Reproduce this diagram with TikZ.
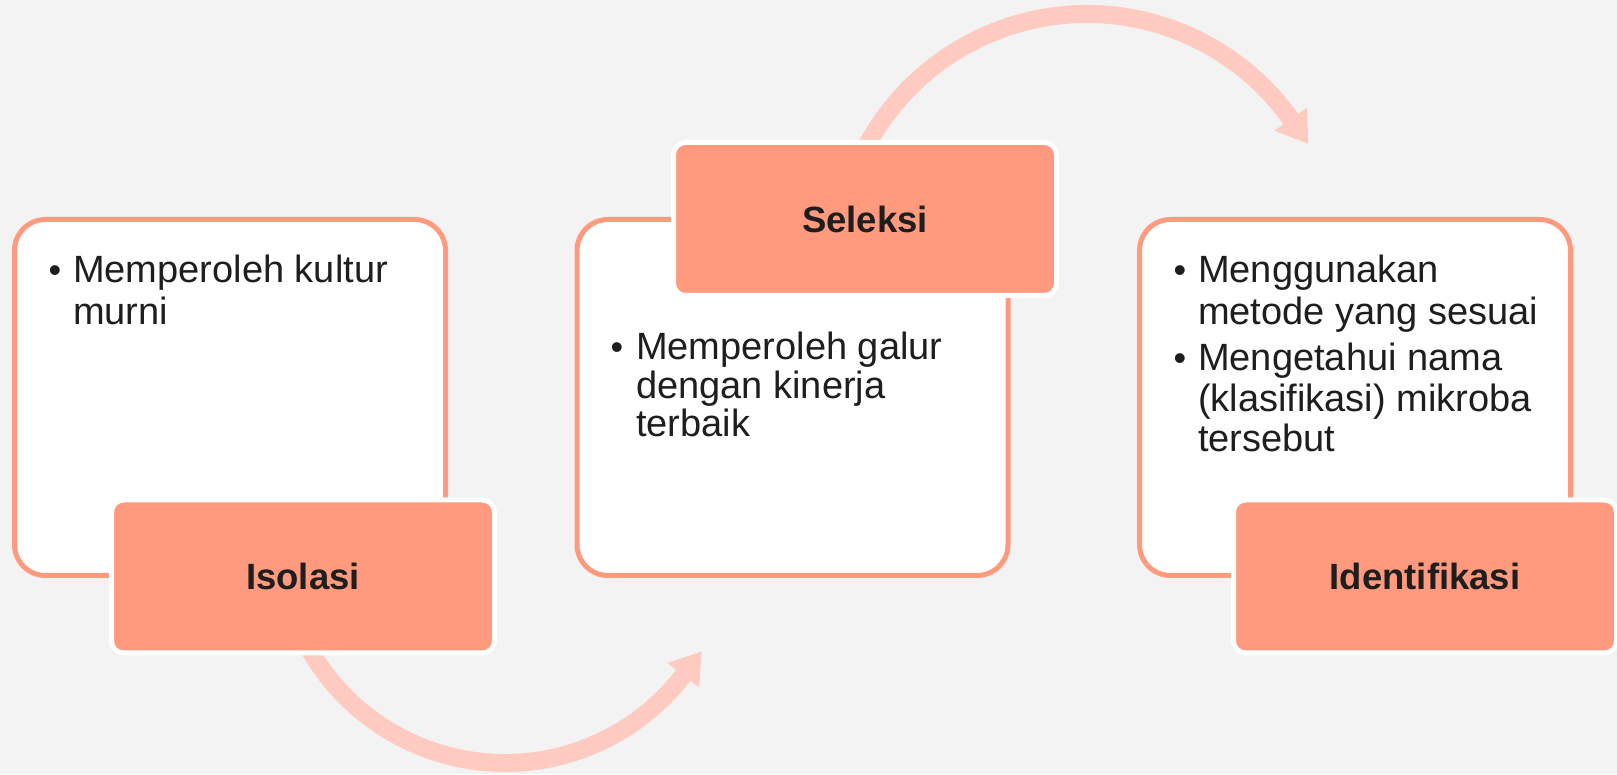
\documentclass[tikz,border=0pt]{standalone}
\usepackage{fontspec}
\setmainfont{Liberation Sans}
\usetikzlibrary{calc}
\definecolor{salmon}{HTML}{FF9A7E}
\definecolor{arrowpink}{HTML}{FFCABF}
\definecolor{bggray}{HTML}{F3F3F3}
\definecolor{ink}{HTML}{1E1E1E}
\begin{document}
\begin{tikzpicture}[x=1pt,y=1pt,
  contentbox/.style={draw=salmon, fill=white, line width=5pt, rounded corners=31pt,
    minimum width=431pt, minimum height=356pt, anchor=north west, inner sep=0pt, outer sep=0pt},
  labelbox/.style={draw=white, fill=salmon, line width=5pt, rounded corners=12pt,
    minimum width=383pt, minimum height=153pt, inner sep=0pt, outer sep=0pt,
    font=\fontsize{36.5}{43}\selectfont\bfseries, text=ink},
  bodyline/.style={anchor=base west, inner sep=0pt, font=\fontsize{38}{45}\selectfont, text=ink},
  bulletdot/.style={anchor=base, inner sep=0pt, font=\fontsize{36}{43}\selectfont, text=ink},
  arrowshaft/.style={draw=arrowpink, line width=18pt},
  arrowhead/.style={fill=arrowpink},
]
% background and bounding box
\fill[bggray] (0,0) rectangle (1617,774);
\useasboundingbox (0,0) rectangle (1617,774);

% arc centres
\coordinate (ctop) at (1087,510);
\coordinate (cbot) at (505,236);

% top curved arrow (Seleksi -> Identifikasi)
\draw[arrowshaft] (ctop) ++(160:250) arc[start angle=160, end angle=35, radius=250];
\coordinate (toptip) at ($(ctop)+(35.4:250)+(-54.6:30)$);
\fill[arrowhead] ($(ctop)+(35.4:270)$) -- ($(ctop)+(35.4:230)$) -- (toptip) -- cycle;

% bottom curved arrow (Isolasi -> Seleksi)
\draw[arrowshaft] (cbot) ++(205:225) arc[start angle=205, end angle=323, radius=225];
\coordinate (bottip) at ($(cbot)+(322.4:225)+(52.4:30)$);
\fill[arrowhead] ($(cbot)+(322.4:245)$) -- ($(cbot)+(322.4:205)$) -- (bottip) -- cycle;

% content boxes
\node[contentbox] (box1) at (14.5,554.5) {};
\node[contentbox] (box2) at (577,554.5) {};
\node[contentbox] (box3) at (1139.5,554.5) {};

% label boxes
\node[labelbox] (isolasi) at (303,197.5) {Isolasi};
\node[labelbox] (seleksi) at (865,555) {Seleksi};
\node[labelbox] (identifikasi) at (1425,197.5) {Identifikasi};

% box 1 text
\node[bulletdot] (b1a) at (55,491) {•};
\node[bodyline] (t1a) at (73,491) {Memperoleh kultur};
\node[bodyline] (t1b) at (73,449) {murni};

% box 2 text
\node[bulletdot] (b2a) at (617,414) {•};
\node[bodyline] (t2a) at (636,414) {Memperoleh galur};
\node[bodyline] (t2b) at (636,375.5) {dengan kinerja};
\node[bodyline] (t2c) at (636,337) {terbaik};

% box 3 text
\node[bulletdot] (b3a) at (1180,491) {•};
\node[bodyline] (t3a) at (1198,491) {Menggunakan};
\node[bodyline] (t3b) at (1198,449) {metode yang sesuai};
\node[bulletdot] (b3b) at (1180,403) {•};
\node[bodyline] (t3c) at (1198,403) {Mengetahui nama};
\node[bodyline] (t3d) at (1198,362) {(klasifikasi) mikroba};
\node[bodyline] (t3e) at (1198,322) {tersebut};
\end{tikzpicture}
\end{document}
